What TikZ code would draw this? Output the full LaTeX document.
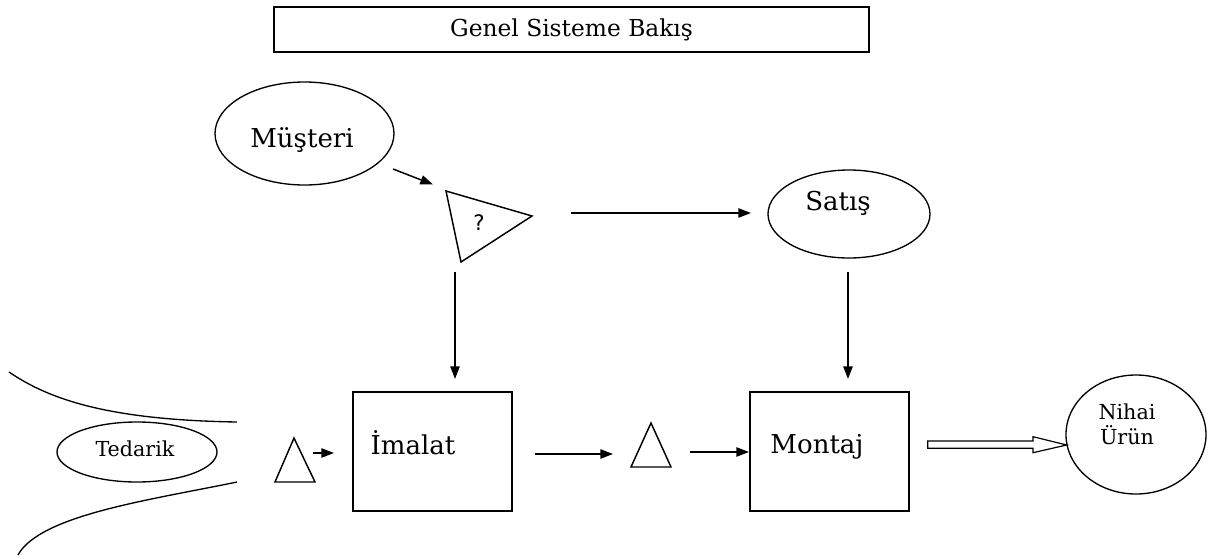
\documentclass[tikz,border=0pt]{standalone}
\usepackage{fontspec}
\setmainfont{DejaVu Serif}
\newfontfamily\qfont{DejaVu Sans}
\usetikzlibrary{shapes.geometric,arrows.meta,calc}

\begin{document}
\begin{tikzpicture}[x=0.75pt,y=-0.75pt,
  line width=1.1pt,
  box/.style={draw, rectangle, inner sep=0pt},
  oval/.style={draw, ellipse, inner sep=0pt, line width=1pt},
  tri/.style={draw, line width=1.1pt, line join=miter},
  lbl/.style={inner sep=0pt, font=\fontsize{19.5pt}{23pt}\selectfont},
  smalllbl/.style={inner sep=0pt, font=\fontsize{15.5pt}{18.75pt}\selectfont, align=center},
  arr/.style={-{Triangle[length=9.5pt,width=7pt]}, line width=1.1pt},
  hollow/.style={draw, line width=0.9pt, line join=miter},
  edge/.style={line width=1pt}
]
\useasboundingbox (0,0) rectangle (1208,558);

% heading
\node[box, minimum width=446.25pt, minimum height=33.75pt,
      font=\fontsize{17.5pt}{20pt}\selectfont] (title) at (571.5,29.5) {Genel Sisteme Bakış};

% main shapes
\node[oval, minimum width=134.25pt, minimum height=77.25pt] (musteri) at (304.5,133.5) {};
\node[lbl] (musterilbl) at (302,140) {Müşteri};

\node[oval, minimum width=121.5pt, minimum height=66pt] (satis) at (849,214) {};
\node[lbl] (satislbl) at (838,203) {Satış};

\node[box, minimum width=119.25pt, minimum height=89.25pt] (imalat) at (432.5,451.5) {};
\node[lbl] (imalatlbl) at (413,443) {İmalat};

\node[box, minimum width=119.25pt, minimum height=89.25pt] (montaj) at (829.5,451.5) {};
\node[lbl] (montajlbl) at (817,447) {Montaj};

\node[oval, minimum width=120pt, minimum height=45pt] (tedarik) at (137,452) {};
\node[smalllbl] (tedariklbl) at (135,449) {Tedarik};

\node[oval, minimum width=105pt, minimum height=89.25pt] (nihai) at (1136,434.5) {};
\node[smalllbl] (nihailbl) at (1127,424) {Nihai\\Ürün};

% decision triangle and stock triangles
\coordinate (q1) at (446,191);
\coordinate (q2) at (532,216);
\coordinate (q3) at (461,262);
\draw[tri] (q1) -- (q2) -- (q3) -- cycle;
\node[inner sep=0pt, font=\qfont\fontsize{16pt}{18pt}\selectfont] (qmark) at (479,223) {?};

\coordinate (s1) at (275,482);
\coordinate (s2) at (315,482);
\coordinate (s3) at (294,438);
\draw[tri] (s1) -- (s2) -- (s3) -- cycle;

\coordinate (w1) at (631,467);
\coordinate (w2) at (671,467);
\coordinate (w3) at (651,423);
\draw[tri] (w1) -- (w2) -- (w3) -- cycle;

% supplier funnel
\coordinate (fa) at (9,372);
\coordinate (fb) at (237,422);
\coordinate (fc) at (237,482);
\coordinate (fd) at (18,555);
\draw[edge] (fa) .. controls (50,400) and (110,420) .. (fb);
\draw[edge] (fc) .. controls (150,500) and (40,515) .. (fd);

% flow arrows
\coordinate (a1s) at (393,169);  \coordinate (a1e) at (433,184.5);
\coordinate (a2s) at (571,213);  \coordinate (a2e) at (751,213);
\coordinate (a3s) at (455,272);  \coordinate (a3e) at (455,379);
\coordinate (a4s) at (848,272);  \coordinate (a4e) at (848,379);
\coordinate (a5s) at (313,453);  \coordinate (a5e) at (334,453);
\coordinate (a6s) at (535,454);  \coordinate (a6e) at (613,454);
\coordinate (a7s) at (690,452);  \coordinate (a7e) at (749,452);
\draw[arr] (a1s) -- (a1e);
\draw[arr] (a2s) -- (a2e);
\draw[arr] (a3s) -- (a3e);
\draw[arr] (a4s) -- (a4e);
\draw[arr] (a5s) -- (a5e);
\draw[arr] (a6s) -- (a6e);
\draw[arr] (a7s) -- (a7e);

% hollow arrow to the final product
\coordinate (h0) at (927.7,441);
\coordinate (tip) at (1066.7,445);
\draw[hollow] (h0) -- (1033,441) -- (1033,436.7) -- (tip)
  -- (1033,452.7) -- (1033,448.3) -- (927.7,448.3) -- cycle;
\end{tikzpicture}
\end{document}
